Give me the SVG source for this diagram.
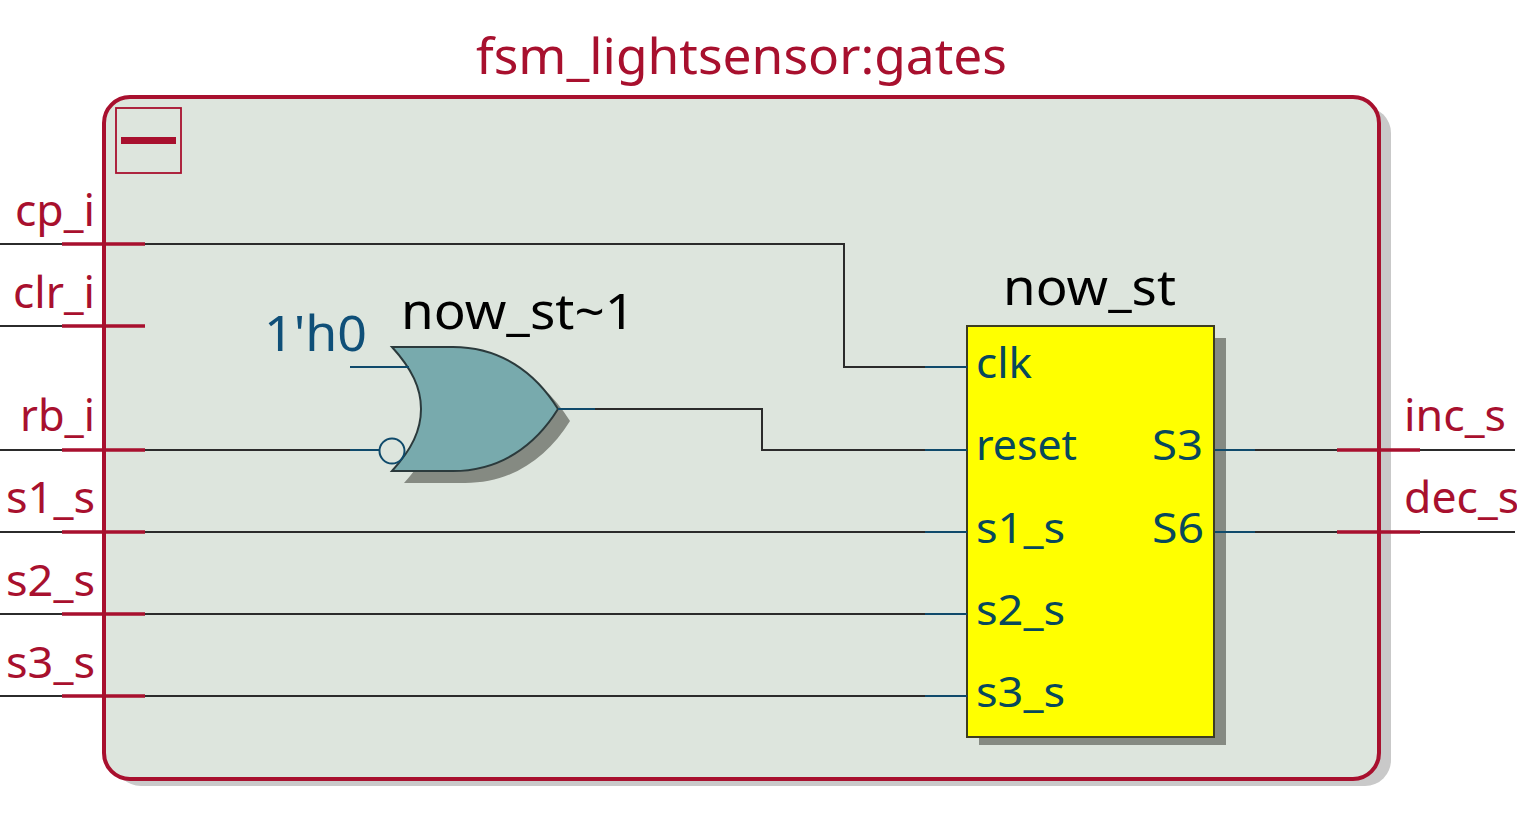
<svg xmlns="http://www.w3.org/2000/svg" width="1517" height="813" viewBox="0 0 1517 813">
<style>
text{font-family:"Noto Sans","Open Sans","DejaVu Sans",sans-serif}
.red{fill:#a8102e}
.blk{fill:#000}
.pin{fill:#07485c}
.ln{fill:none;stroke:#2b2b2b;stroke-width:2}
.st{fill:none;stroke:#0f4a6b;stroke-width:2}
.port{fill:none;stroke:#a8102e;stroke-width:3.4}
.sh{fill:#858a82}
</style>
<rect width="1517" height="813" fill="#fff"/>
<g id="block">
<rect x="115" y="107" width="1276" height="679" rx="26" fill="#c9c9c9"/>
<rect x="104" y="97" width="1275" height="682" rx="26" fill="#dde5dd" stroke="#a8102e" stroke-width="4"/>
<text x="476" y="74" class="red" font-size="50" textLength="531" lengthAdjust="spacingAndGlyphs">fsm_lightsensor:gates</text>
<rect x="116" y="108" width="65" height="65" fill="none" stroke="#a8102e" stroke-width="1.8"/>
<rect x="121" y="137" width="55" height="7" fill="#a8102e"/>
</g>
<g id="now_st_1">
<path class="sh" d="M404 359H465C512 359 547 384 570 421C547 458 512 483 465 483H404C424 461 433 442 433 421C433 400 424 381 404 359Z"/>
<path d="M392 347H453C500 347 535 372 558 409C535 446 500 471 453 471H392C412 449 421 430 421 409C421 388 412 369 392 347Z" fill="#78aaad" stroke="#2b3a3c" stroke-width="2"/>
<circle cx="392" cy="451" r="12.5" fill="none" stroke="#0f4a6b" stroke-width="2"/>
<text x="264" y="351" font-size="50" fill="#0f4f78" textLength="103" lengthAdjust="spacingAndGlyphs">1'h0</text>
<text x="401" y="329" class="blk" font-size="50" textLength="234" lengthAdjust="spacingAndGlyphs">now_st~1</text>
</g>
<g id="now_st">
<rect x="979" y="338" width="247" height="407" class="sh"/>
<rect x="967" y="326" width="247" height="411" fill="#ff0" stroke="#3d3d20" stroke-width="2"/>
<text x="1003" y="305" class="blk" font-size="50" textLength="173" lengthAdjust="spacingAndGlyphs">now_st</text>
<g class="pin" font-size="42">
<text x="976" y="378" textLength="56" lengthAdjust="spacingAndGlyphs">clk</text>
<text x="976" y="460" textLength="101" lengthAdjust="spacingAndGlyphs">reset</text>
<text x="976" y="543" textLength="89" lengthAdjust="spacingAndGlyphs">s1_s</text>
<text x="976" y="625" textLength="89" lengthAdjust="spacingAndGlyphs">s2_s</text>
<text x="976" y="707" textLength="89" lengthAdjust="spacingAndGlyphs">s3_s</text>
<text x="1152" y="460" textLength="51" lengthAdjust="spacingAndGlyphs">S3</text>
<text x="1152" y="543" textLength="52" lengthAdjust="spacingAndGlyphs">S6</text>
</g>
</g>
<g id="connectors">
<path class="ln" d="M0 244H844V367H925"/>
<path class="ln" d="M0 326H145"/>
<path class="ln" d="M0 450H350"/>
<path class="ln" d="M0 532H925"/>
<path class="ln" d="M0 614H925"/>
<path class="ln" d="M0 696H925"/>
<path class="ln" d="M595 409H762V450H925"/>
<path class="ln" d="M1255 450H1515"/>
<path class="ln" d="M1255 532H1515"/>
<path class="st" d="M925 367H967M925 450H967M925 532H967M925 614H967M925 696H967M1215 450H1255M1215 532H1255M558 409H595M350 367H409M350 450H380"/>
</g>
<g id="ports-in">
<path class="port" d="M62 244H145M62 326H145M62 450H145M62 532H145M62 614H145M62 696H145"/>
<g class="red" font-size="44">
<text x="15" y="226" textLength="80" lengthAdjust="spacingAndGlyphs">cp_i</text>
<text x="13" y="308" textLength="82" lengthAdjust="spacingAndGlyphs">clr_i</text>
<text x="20" y="431" textLength="75" lengthAdjust="spacingAndGlyphs">rb_i</text>
<text x="6" y="513" textLength="89" lengthAdjust="spacingAndGlyphs">s1_s</text>
<text x="6" y="596" textLength="89" lengthAdjust="spacingAndGlyphs">s2_s</text>
<text x="6" y="678" textLength="89" lengthAdjust="spacingAndGlyphs">s3_s</text>
</g>
</g>
<g id="ports-out">
<path class="port" d="M1337 450H1420M1337 532H1420"/>
<g class="red" font-size="44">
<text x="1404" y="431" textLength="102" lengthAdjust="spacingAndGlyphs">inc_s</text>
<text x="1404" y="513" textLength="115" lengthAdjust="spacingAndGlyphs">dec_s</text>
</g>
</g>
</svg>
